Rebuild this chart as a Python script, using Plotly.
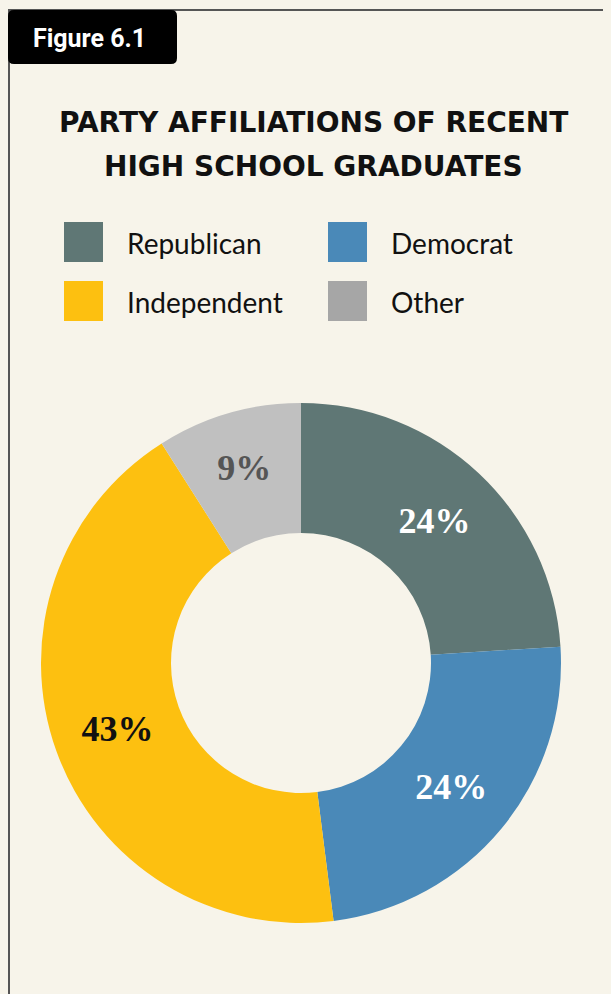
import plotly.graph_objects as go

labels = ["Republican", "Democrat", "Independent", "Other"]
values = [24, 24, 43, 9]
slice_colors = ["#5f7775", "#4a89b8", "#fdc010", "#c0c0c0"]
legend_colors = ["#5f7775", "#4a89b8", "#fdc010", "#a6a6a6"]
text_colors = ["#ffffff", "#ffffff", "#111111", "#555555"]
title_lines = ["PARTY AFFILIATIONS OF RECENT", "HIGH SCHOOL GRADUATES"]
figure_tag = "Figure 6.1"

W, H = 603, 986
BG = "#f7f4ea"
OFF = 8  # page body margin

def px(x):
    return (x - OFF) / W

def py(y):
    return 1 - (y - OFF) / H

fig = go.Figure()
fig.add_trace(go.Pie(
    labels=labels,
    values=values,
    sort=False,
    direction="clockwise",
    rotation=0,
    hole=0.5,
    marker=dict(colors=slice_colors, line=dict(width=0)),
    texttemplate="%{percent:.0%}",
    textposition="inside",
    insidetextorientation="horizontal",
    textfont=dict(family="Liberation Serif", size=36, color=text_colors, weight="bold"),
    domain=dict(x=[px(40), px(562)], y=[py(923), py(403)]),
    showlegend=False,
    hoverinfo="label+percent",
))

shapes = []
annotations = []

# frame
shapes.append(dict(type="line", xref="paper", yref="paper", x0=px(8), x1=1.0,
                   y0=py(10), y1=py(10), line=dict(color="#555555", width=2)))
shapes.append(dict(type="line", xref="paper", yref="paper", x0=px(9), x1=px(9),
                   y0=py(10), y1=0, line=dict(color="#555555", width=2)))

def conv_path(x0, x1, y0, y1, r):
    P = lambda x, y: f"{px(x):.5f},{py(y):.5f}"
    return (f"M {P(x0 + r, y0)} L {P(x1 - r, y0)} Q {P(x1, y0)} {P(x1, y0 + r)} "
            f"L {P(x1, y1 - r)} Q {P(x1, y1)} {P(x1 - r, y1)} L {P(x0 + r, y1)} "
            f"Q {P(x0, y1)} {P(x0, y1 - r)} L {P(x0, y0 + r)} Q {P(x0, y0)} {P(x0 + r, y0)} Z")

shapes.append(dict(type="path", xref="paper", yref="paper", path=conv_path(8, 177, 10, 64, 6),
                   fillcolor="#000000", line=dict(width=0)))
annotations.append(dict(text=f"<b>{figure_tag}</b>", xref="paper", yref="paper",
                        x=px(89), y=py(38), xanchor="center", yanchor="middle",
                        showarrow=False, font=dict(family="Roboto", size=25, color="#ffffff")))

# title
for i, line in enumerate(title_lines):
    annotations.append(dict(text=f"<b>{line}</b>", xref="paper", yref="paper",
                            x=px(313), y=py(123 + i * 43), xanchor="center", yanchor="middle",
                            showarrow=False, font=dict(family="DejaVu Sans", size=28, color="#111111")))

# custom legend
pos = [(64, 222), (328, 222), (64, 281), (328, 281)]
for (lx, ly), lab, col in zip(pos, labels, legend_colors):
    shapes.append(dict(type="rect", xref="paper", yref="paper",
                       x0=px(lx), x1=px(lx + 39), y0=py(ly + 40), y1=py(ly),
                       fillcolor=col, line=dict(width=0)))
    annotations.append(dict(text=lab, xref="paper", yref="paper",
                            x=px(lx + 61), y=py(ly + 21), xanchor="left", yanchor="middle",
                            showarrow=False, font=dict(family="Lato", size=28, color="#111111")))

fig.update_layout(
    width=W, height=H,
    margin=dict(l=0, r=0, t=0, b=0),
    paper_bgcolor=BG, plot_bgcolor=BG,
    shapes=shapes, annotations=annotations,
)

fig.write_html(
    "out.html",
    post_script=(
        "document.body.style.background='" + BG + "';"
        "document.documentElement.style.background='" + BG + "';"
        "document.documentElement.style.overflow='hidden';"
    ),
)
